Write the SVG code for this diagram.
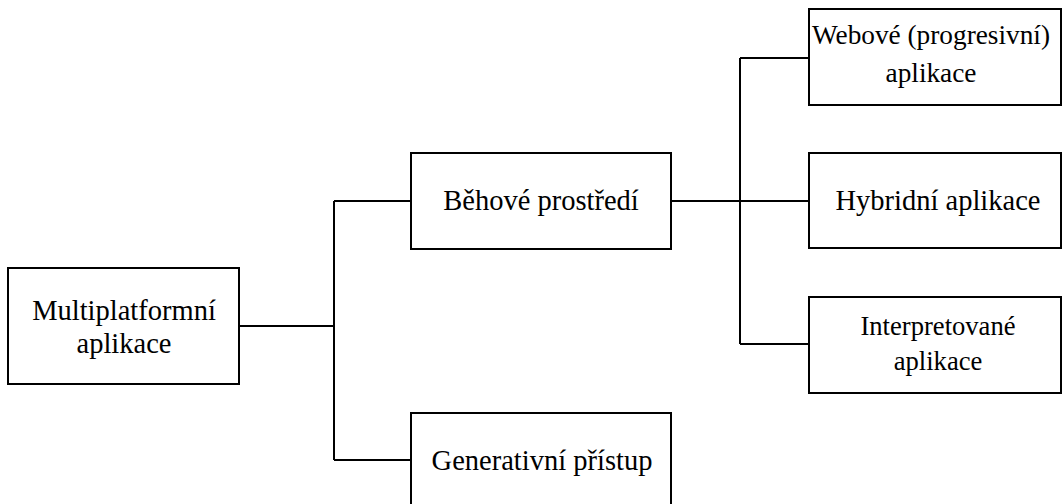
<svg xmlns="http://www.w3.org/2000/svg" width="1062" height="504" viewBox="0 0 1062 504">
<style>
.box{fill:#fff;stroke:#000;stroke-width:2}
.c{fill:none;stroke:#000;stroke-width:2}
</style>
<rect width="1062" height="504" fill="#fff"/>
<g id="connectors">
<path class="c" d="M239 326H334M334 201V460M334 201H411M334 460H411"/>
<path class="c" d="M671 201H809M740 58V344M740 58H809M740 344H809"/>
</g>
<g font-family="Liberation Serif" font-size="28.5" text-anchor="middle" fill="#000">
<g id="n-multi"><rect class="box" x="8" y="268" width="231" height="116"/><text x="124" y="320">Multiplatformní</text><text x="124" y="353">aplikace</text></g>
<g id="n-behove"><rect class="box" x="411" y="153" width="260" height="96"/><text x="541" y="210">Běhové prostředí</text></g>
<g id="n-gen"><rect class="box" x="411" y="413" width="260" height="96"/><text x="542" y="470">Generativní přístup</text></g>
<g id="n-web" font-size="27.3"><rect class="box" x="809" y="9" width="252" height="96"/><text x="931" y="44">Webové (progresivní)</text><text x="931" y="82">aplikace</text></g>
<g id="n-hyb"><rect class="box" x="809" y="153" width="252" height="95"/><text x="938" y="210">Hybridní aplikace</text></g>
<g id="n-int" font-size="26.6"><rect class="box" x="809" y="297" width="252" height="96"/><text x="938" y="335">Interpretované</text><text x="938" y="370">aplikace</text></g>
</g>
</svg>
